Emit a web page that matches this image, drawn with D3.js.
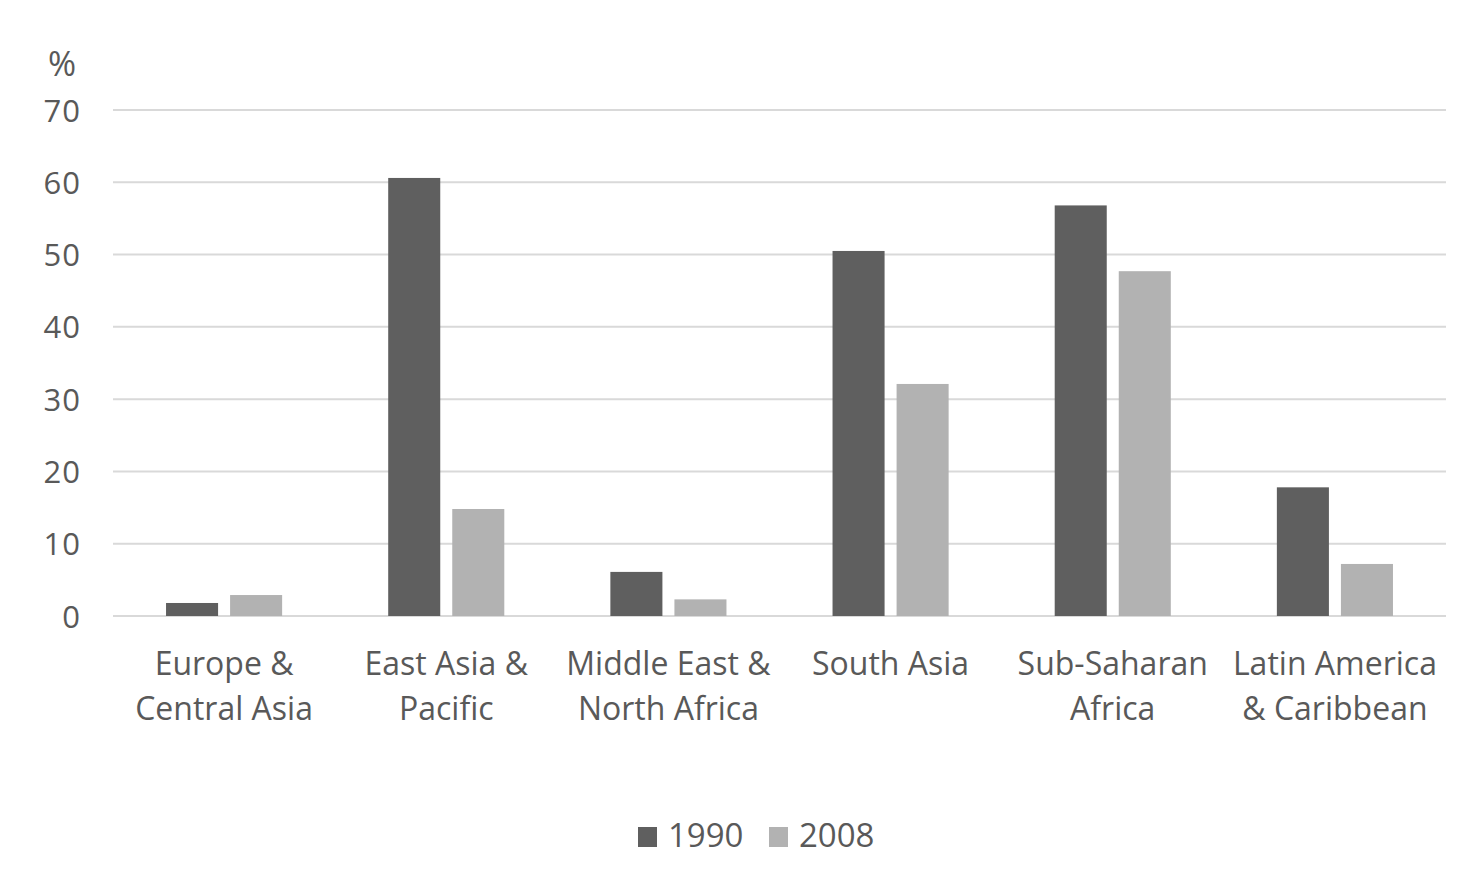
<!DOCTYPE html>
<html>
<head>
<meta charset="utf-8">
<script src="https://cdn.jsdelivr.net/npm/d3@7"></script>
<style>
  html, body { margin: 0; padding: 0; background: #fff; }
  svg { display: block; }
  text { font-family: "Open Sans", "Noto Sans", sans-serif; fill: #595959; }
</style>
</head>
<body>
<svg id="chart" width="1472" height="876"></svg>
<script>
const categories = [
  ["Europe &", "Central Asia"],
  ["East Asia &", "Pacific"],
  ["Middle East &", "North Africa"],
  ["South Asia"],
  ["Sub-Saharan", "Africa"],
  ["Latin America", "& Caribbean"]
];
const seriesNames = ["1990", "2008"];
const values1990 = [1.8, 60.6, 6.1, 50.5, 56.8, 17.8];
const values2008 = [2.9, 14.8, 2.3, 32.1, 47.7, 7.2];
const yTicks = [0, 10, 20, 30, 40, 50, 60, 70];
const colors = ["#5f5f5f", "#b2b2b2"];

const svg = d3.select("#chart");
const plotLeft = 113, plotRight = 1446, plotTop = 110, plotBottom = 616;

const catKeys = categories.map(c => c.join(" "));
const x0 = d3.scaleBand().domain(catKeys).range([plotLeft, plotRight]).paddingInner(0).paddingOuter(0);
const x1 = d3.scaleBand().domain(seriesNames).range([0, x0.bandwidth()])
  .paddingInner(0.1875).paddingOuter(0.828);
const y = d3.scaleLinear().domain([0, 70]).range([plotBottom, plotTop]);

// gridlines
svg.append("g").selectAll("line").data(yTicks).join("line")
  .attr("x1", plotLeft).attr("x2", plotRight)
  .attr("y1", d => y(d)).attr("y2", d => y(d))
  .attr("stroke", "#d9d9d9").attr("stroke-width", 2);

// y axis labels
const yAxis = d3.axisLeft(y).tickValues(yTicks).tickSize(0).tickPadding(0);
const yg = svg.append("g").attr("transform", `translate(81,0)`).call(yAxis);
yg.select(".domain").remove();
yg.selectAll("text").style("font-size", "31px").style("letter-spacing", "1px")
  .attr("fill", "#595959").attr("dy", null).attr("y", 11)
  .attr("font-family", "Open Sans, Noto Sans, sans-serif");

svg.append("text").attr("x", 62).attr("y", 76).attr("text-anchor", "middle")
  .style("font-size", "34px").text("%");

// bars
const data = catKeys.map((k, i) => ({ key: k, vals: [values1990[i], values2008[i]] }));
const groups = svg.append("g").selectAll("g").data(data).join("g")
  .attr("transform", d => `translate(${x0(d.key)},0)`);
groups.selectAll("rect").data(d => d.vals.map((v, j) => ({ s: seriesNames[j], v, j })))
  .join("rect")
  .attr("x", d => x1(d.s)).attr("width", x1.bandwidth())
  .attr("y", d => y(d.v)).attr("height", d => y(0) - y(d.v))
  .attr("fill", d => colors[d.j]);

// category labels
const catG = svg.append("g");
categories.forEach((lines, i) => {
  const cx = x0(catKeys[i]) + x0.bandwidth() / 2;
  const t = catG.append("text").attr("text-anchor", "middle").style("font-size", "32px");
  lines.forEach((ln, li) => {
    t.append("tspan").attr("x", cx).attr("y", 675 + li * 45).text(ln);
  });
});

// legend
const legend = svg.append("g");
const legX = [638, 769];
seriesNames.forEach((s, i) => {
  legend.append("rect").attr("x", legX[i]).attr("y", 827).attr("width", 19).attr("height", 20)
    .attr("fill", colors[i]);
  legend.append("text").attr("x", legX[i] + 30).attr("y", 847).style("font-size", "33px").text(s);
});
</script>
</body>
</html>
